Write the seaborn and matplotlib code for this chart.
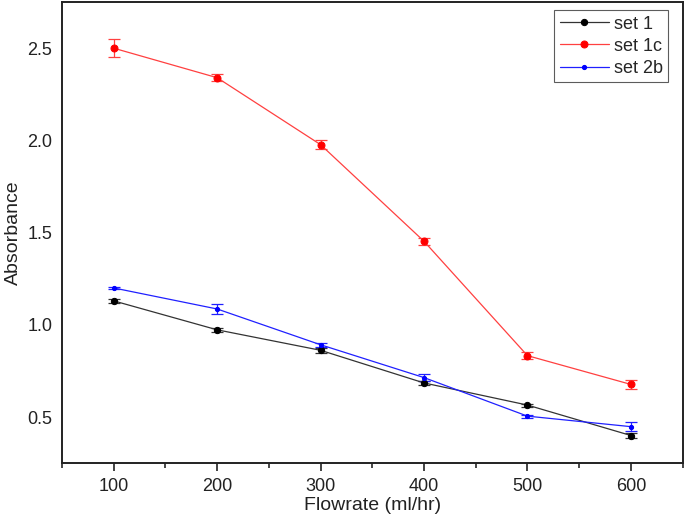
"""Absorbance vs flowrate, three sets with error bars."""

import matplotlib

matplotlib.use("Agg")
import matplotlib.pyplot as plt
import pandas as pd
import seaborn as sns
from matplotlib.ticker import MultipleLocator

sns.set_theme(style="white")
plt.rcParams["font.family"] = ["Liberation Sans", "DejaVu Sans"]

flowrate = [100, 200, 300, 400, 500, 600]
set_names = ["set 1", "set 1c", "set 2b"]
set1 = [1.13, 0.973, 0.862, 0.685, 0.565, 0.400]
set1_err = [0.012, 0.012, 0.012, 0.012, 0.008, 0.012]
set1c = [2.50, 2.34, 1.977, 1.453, 0.833, 0.677]
set1c_err = [0.05, 0.02, 0.025, 0.02, 0.018, 0.025]
set2b = [1.20, 1.086, 0.892, 0.714, 0.505, 0.448]
set2b_err = [0.005, 0.025, 0.012, 0.018, 0.008, 0.025]

colors = {"set 1": "#000000", "set 1c": "#ff0000", "set 2b": "#0000ff"}
line_colors = {"set 1": "#333333", "set 1c": "#ff4040", "set 2b": "#2020ff"}
marker_sizes = {"set 1": 4.5, "set 1c": 5, "set 2b": 3}

values = {"set 1": set1, "set 1c": set1c, "set 2b": set2b}
errors = {"set 1": set1_err, "set 1c": set1c_err, "set 2b": set2b_err}

df = pd.DataFrame(
    [
        {"Flowrate": x, "Absorbance": y, "err": e, "set": name}
        for name in set_names
        for x, y, e in zip(flowrate, values[name], errors[name])
    ]
)

fig = plt.figure(figsize=(6.85, 5.21), dpi=100)
ax = fig.add_axes([0.0905, 0.111, 0.906, 0.885])

for name in set_names:
    sub = df[df["set"] == name]
    ax.errorbar(
        sub["Flowrate"],
        sub["Absorbance"],
        yerr=sub["err"],
        fmt="none",
        ecolor=line_colors[name],
        elinewidth=0.9,
        capsize=4,
        capthick=0.9,
        zorder=2,
    )
    sns.lineplot(
        data=sub,
        x="Flowrate",
        y="Absorbance",
        ax=ax,
        color=line_colors[name],
        linewidth=0.9,
        marker="o",
        markersize=marker_sizes[name],
        markerfacecolor=colors[name],
        markeredgecolor=colors[name],
        label=name,
        errorbar=None,
        zorder=3,
    )

ax.set_xlim(50, 650)
ax.set_ylim(0.25, 2.75)
ax.xaxis.set_minor_locator(MultipleLocator(50))
ax.yaxis.set_major_locator(MultipleLocator(0.5))
ax.set_xticks(flowrate)
ax.tick_params(axis="x", which="major", direction="out", length=6, width=1.2,
               bottom=True, labelsize=13, pad=5, colors="#222222")
ax.tick_params(axis="x", which="minor", direction="out", length=3.5, width=1.2,
               bottom=True)
ax.tick_params(axis="y", which="both", length=0, labelsize=13, pad=7,
               colors="#222222")
for spine in ax.spines.values():
    spine.set_color("#222222")
    spine.set_linewidth(1.4)

ax.set_xlabel("Flowrate (ml/hr)", fontsize=14, labelpad=1, color="#222222")
ax.set_ylabel("Absorbance", fontsize=14, labelpad=4, color="#222222")

leg = ax.legend(
    loc="upper right",
    bbox_to_anchor=(0.983, 0.99),
    frameon=True,
    fancybox=False,
    edgecolor="#333333",
    fontsize=13,
    handlelength=2.7,
    handletextpad=0.3,
    borderpad=0.3,
    borderaxespad=0.2,
    labelspacing=0.28,
)
leg.get_frame().set_linewidth(0.8)

fig.savefig("out.png", dpi=100)
